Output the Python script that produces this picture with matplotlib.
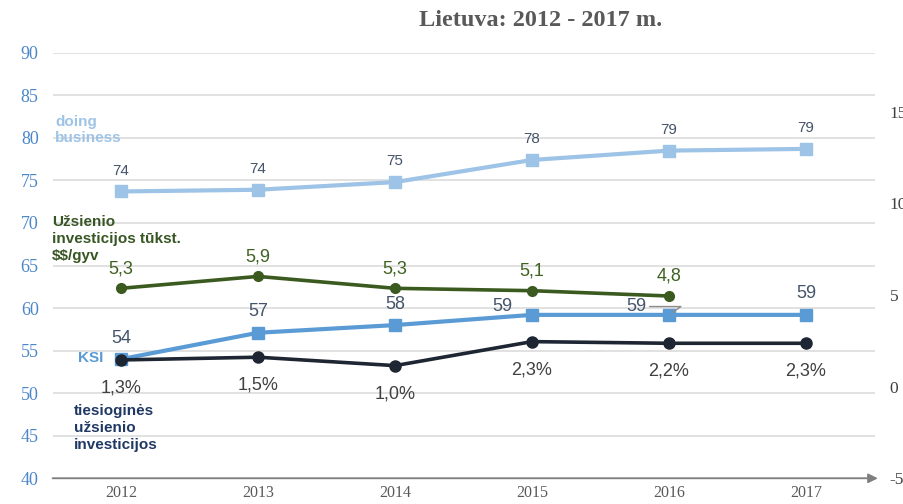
import numpy as np
import matplotlib.pyplot as plt

years = ["2012", "2013", "2014", "2015", "2016", "2017"]

# left axis series
doing_business = [73.7, 73.9, 74.8, 77.4, 78.5, 78.7]
doing_labels = ["74", "74", "75", "78", "79", "79"]
ksi = [54.0, 57.1, 58.0, 59.2, 59.2, 59.2]
ksi_labels = ["54", "57", "58", "59", "59", "59"]

# right axis series
fdi_per_capita = [5.37, 6.02, 5.37, 5.24, 4.95]
fdi_pc_labels = ["5,3", "5,9", "5,3", "5,1", "4,8"]
fdi_share = [1.46, 1.61, 1.15, 2.46, 2.37, 2.37]
fdi_share_labels = ["1,3%", "1,5%", "1,0%", "2,3%", "2,2%", "2,3%"]

left_ticks = [40, 45, 50, 55, 60, 65, 70, 75, 80, 85, 90]
right_ticks = [-5, 0, 5, 10, 15]

C_DB = '#9dc3e6'
C_KSI = '#5b9bd5'
C_GREEN = '#3b5a1f'
C_NAVY = '#1f2633'
SERIF = 'Liberation Serif'
SANS = 'Liberation Sans'

plt.rcParams['text.parse_math'] = False
plt.rcParams['axes.unicode_minus'] = False

fig = plt.figure(figsize=(9.04, 5.04), dpi=100)
ax = fig.add_axes([0.0581, 0.051, 0.9093, 0.8444])
ax2 = ax.twinx()

x = np.arange(len(years))

ax.set_ylim(40, 90)
ax.set_xlim(-0.5, 5.5)
ax2.set_ylim(-5, 18.23)
ax.set_yticks(left_ticks)
ax2.set_yticks(right_ticks)
ax.yaxis.grid(True, color='#d9d9d9', lw=1.1)
ax.set_axisbelow(True)
for a in (ax, ax2):
    for s in a.spines.values():
        s.set_visible(False)
    a.tick_params(length=0)

ax.set_xticks(x)
ax.set_xticklabels(years, fontfamily=SERIF, fontsize=11.5, color='#595959')
ax.tick_params(axis='x', pad=5)
for lab in ax.get_yticklabels():
    lab.set_fontfamily(SERIF)
    lab.set_fontsize(13)
    lab.set_color('#4a86c8')
ax.tick_params(axis='y', pad=10)
for lab in ax2.get_yticklabels():
    lab.set_fontfamily(SERIF)
    lab.set_fontsize(12.5)
    lab.set_color('#404040')
ax2.tick_params(axis='y', pad=11)

# bottom axis arrow
ax.annotate('', xy=(1.004, 0), xytext=(0, 0), xycoords='axes fraction',
            arrowprops=dict(arrowstyle='-|>', color='#7f7f7f', lw=1.3,
                            mutation_scale=14, shrinkA=0, shrinkB=0))

# lines
ax.plot(x, doing_business, color=C_DB, lw=3, marker='s', ms=9, zorder=3)
ax.plot(x, ksi, color=C_KSI, lw=3, marker='s', ms=8, zorder=4)
ax2.plot(x[:5], fdi_per_capita, color=C_GREEN, lw=2.6, marker='o', ms=7, zorder=3)
ax2.plot(x, fdi_share, color=C_NAVY, lw=2.6, marker='o', ms=8, zorder=3)

# data labels
for i, (v, t) in enumerate(zip(doing_business, doing_labels)):
    ax.annotate(t, (i, v), xytext=(0, 10), textcoords='offset points',
                ha='center', va='bottom', fontsize=11, fontfamily=SANS,
                color='#44546a')

ksi_off = [(0, 9), (0, 9), (0, 9), (-14, 0), (-16, 0), (0, 9)]
for i, (v, t) in enumerate(zip(ksi, ksi_labels)):
    dx, dy = ksi_off[i]
    ha = 'center' if dx == 0 else 'right'
    ax.annotate(t, (i, v), xytext=(dx, dy), textcoords='offset points',
                ha=ha, va='bottom', fontsize=13, fontfamily=SANS,
                color='#44546a', zorder=5)

# leader line for the 2016 KSI label
ax.annotate('', xy=(4, ksi[4]), xytext=(-14, 6), textcoords='offset points',
            arrowprops=dict(arrowstyle='-', color='#8c8c8c', lw=1.0,
                            connectionstyle='angle,angleA=0,angleB=35,rad=0',
                            shrinkA=0, shrinkB=3), zorder=6)

for i, (v, t) in enumerate(zip(fdi_per_capita, fdi_pc_labels)):
    ax2.annotate(t, (i, v), xytext=(0, 8), textcoords='offset points',
                 ha='center', va='bottom', fontsize=13, fontfamily=SANS,
                 color='#3f6121')

for i, (v, t) in enumerate(zip(fdi_share, fdi_share_labels)):
    ax2.annotate(t, (i, v), xytext=(0, -14), textcoords='offset points',
                 ha='center', va='top', fontsize=13, fontfamily=SANS,
                 color='#404040')

# series names
fig.text(55 / 904, 1 - 130 / 504, "doing\nbusiness", color=C_DB, fontsize=11,
         fontweight='bold', fontfamily=SANS, va='center', linespacing=1.25)
fig.text(52 / 904, 1 - 239 / 504, "Užsienio\ninvesticijos tūkst.\n$$/gyv",
         color='#375623', fontsize=11, fontweight='bold', fontfamily=SANS,
         va='center', linespacing=1.25)
fig.text(78 / 904, 1 - 358 / 504, "KSI", color=C_KSI, fontsize=11,
         fontweight='bold', fontfamily=SANS, va='center')
fig.text(74 / 904, 1 - 428 / 504, "tiesioginės\nužsienio\ninvesticijos",
         color='#1f3864', fontsize=11, fontweight='bold', fontfamily=SANS,
         va='center', linespacing=1.25)

# title
fig.text(541 / 904, 1 - 20 / 504, "Lietuva: 2012 - 2017 m.", ha='center', va='center',
         fontsize=17.5, fontweight='bold', fontfamily=SERIF, color='#595959')

fig.savefig('out.png', dpi=100)
